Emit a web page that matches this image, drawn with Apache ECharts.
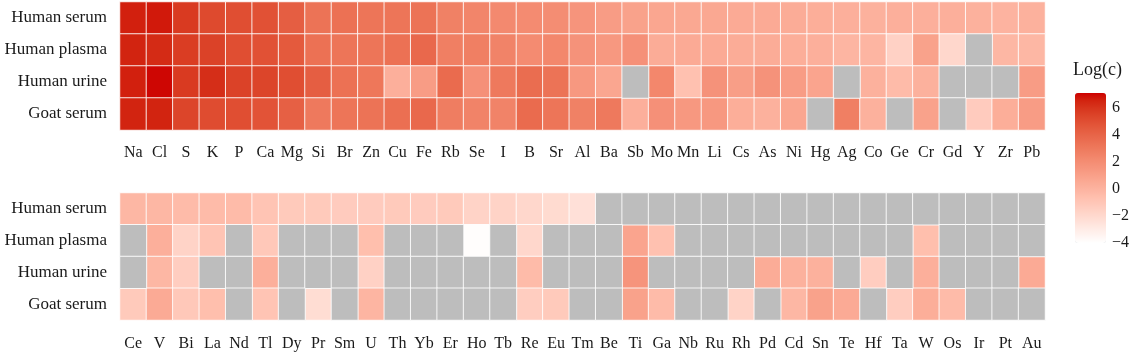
<!DOCTYPE html>
<html>
<head>
<meta charset="utf-8">
<script src="https://cdn.jsdelivr.net/npm/echarts@6/dist/echarts.min.js"></script>
<style>
    html, body { margin: 0; padding: 0; background: #fff; }
    #chart { width: 1132px; height: 352px; }
</style>
</head>
<body>
<div id="chart"></div>
<script>
// element order as in the figure
const elementsTop = ["Na", "Cl", "S", "K", "P", "Ca", "Mg", "Si", "Br", "Zn", "Cu", "Fe", "Rb", "Se", "I", "B", "Sr", "Al", "Ba", "Sb", "Mo", "Mn", "Li", "Cs", "As", "Ni", "Hg", "Ag", "Co", "Ge", "Cr", "Gd", "Y", "Zr", "Pb"];
const elementsBottom = ["Ce", "V", "Bi", "La", "Nd", "Tl", "Dy", "Pr", "Sm", "U", "Th", "Yb", "Er", "Ho", "Tb", "Re", "Eu", "Tm", "Be", "Ti", "Ga", "Nb", "Ru", "Rh", "Pd", "Cd", "Sn", "Te", "Hf", "Ta", "W", "Os", "Ir", "Pt", "Au"];
const samples = ["Human serum", "Human plasma", "Human urine", "Goat serum"];
const legendTicks = [-4, -2, 0, 2, 4, 6];

// Log(c), null = not detected (grey)
const topHumanSerum = [6.6, 6.7, 5.8, 5.2, 5.0, 4.9, 4.3, 3.3, 3.4, 3.2, 3.2, 3.3, 2.6, 2.4, 2.2, 2.1, 2.0, 1.6, 1.2, 0.9, 0.7, 0.6, 0.6, 0.5, 0.5, 0.4, 0.3, 0.2, 0.1, 0.2, 0.2, 0.2, 0.1, 0.0, 0.1];
const topHumanPlasma = [6.5, 6.3, 5.7, 5.5, 5.0, 4.9, 4.5, 3.4, 3.2, 3.2, 3.4, 3.8, 2.7, 2.7, 2.5, 2.1, 2.3, 1.7, 1.4, 1.8, 0.4, 0.5, 0.5, 0.4, 0.4, 0.3, 0.2, -0.1, -0.1, -1.6, 0.9, -1.9, null, -0.2, -0.2];
const topHumanUrine = [6.6, 7.0, 5.8, 6.2, 5.5, 5.4, 5.0, 4.3, 3.4, 3.1, 0.2, 1.2, 3.7, 1.8, 3.0, 3.6, 3.3, 1.4, 0.7, null, 2.3, -0.7, 1.7, 1.1, 1.7, 1.2, 0.8, null, 0.1, -0.4, 0.1, null, null, null, 1.2];
const topGoatSerum = [6.5, 6.5, 5.4, 5.1, 5.0, 4.8, 4.2, 3.0, 3.2, 3.3, 3.5, 3.8, 2.8, 2.5, 2.5, 3.7, 3.2, 2.6, 3.0, 0.2, 1.8, 1.4, 1.4, 0.3, 0.1, 0.7, null, 2.7, 0.1, null, 0.9, null, -1.3, 0.3, 1.2];

const bottomHumanSerum = [-0.2, -0.2, -0.4, -0.4, -0.4, -0.9, -1.2, -1.2, -1.3, -1.3, -1.2, -1.3, -1.2, -1.7, -1.7, -1.9, -2.1, -2.4, null, null, null, null, null, null, null, null, null, null, null, null, null, null, null, null, null];
const bottomHumanPlasma = [null, 0.2, -1.7, -0.9, null, -1.1, null, null, null, -0.6, null, null, null, -3.9, null, -1.9, null, null, null, 0.8, -0.7, null, null, null, null, null, null, null, null, null, -0.6, null, null, null, null];
const bottomHumanUrine = [null, -0.2, -1.4, null, null, 0.2, null, null, null, -1.6, null, null, null, null, null, -0.4, null, null, null, 1.6, null, null, null, null, 0.4, 0.1, 0.1, null, -1.4, null, 0.2, null, null, null, 0.5];
const bottomGoatSerum = [-1.2, 0.5, -1.1, -0.6, null, -0.9, null, -2.2, null, -0.1, null, null, null, null, null, -1.4, -1.2, null, null, 0.9, -0.4, null, null, -1.7, null, -0.2, 0.9, 0.5, null, -1.4, 0.3, -0.4, null, null, null];

const topRows = [topHumanSerum, topHumanPlasma, topHumanUrine, topGoatSerum];
const bottomRows = [bottomHumanSerum, bottomHumanPlasma, bottomHumanUrine, bottomGoatSerum];

// white -> red gradient, interpolated in Lab like ggplot
function hexToLab(hex) {
    let c = [1, 3, 5].map((i) => parseInt(hex.substr(i, 2), 16) / 255);
    c = c.map((v) => (v > 0.04045 ? Math.pow((v + 0.055) / 1.055, 2.4) : v / 12.92));
    let x = (c[0] * 0.4124 + c[1] * 0.3576 + c[2] * 0.1805) / 0.95047;
    let y = c[0] * 0.2126 + c[1] * 0.7152 + c[2] * 0.0722;
    let z = (c[0] * 0.0193 + c[1] * 0.1192 + c[2] * 0.9505) / 1.08883;
    const f = (t) => (t > 0.008856 ? Math.cbrt(t) : 7.787 * t + 16 / 116);
    return [116 * f(y) - 16, 500 * (f(x) - f(y)), 200 * (f(y) - f(z))];
}
function labToHex(lab) {
    let fy = (lab[0] + 16) / 116, fx = fy + lab[1] / 500, fz = fy - lab[2] / 200;
    const g = (t) => (t > 0.206893 ? t * t * t : (t - 16 / 116) / 7.787);
    let x = g(fx) * 0.95047, y = g(fy), z = g(fz) * 1.08883;
    let r = x * 3.2406 + y * -1.5372 + z * -0.4986;
    let gg = x * -0.9689 + y * 1.8758 + z * 0.0415;
    let b = x * 0.0557 + y * -0.204 + z * 1.057;
    return "#" + [r, gg, b].map((v) => {
        v = v > 0.0031308 ? 1.055 * Math.pow(v, 1 / 2.4) - 0.055 : 12.92 * v;
        v = Math.round(Math.min(1, Math.max(0, v)) * 255);
        return v.toString(16).padStart(2, "0");
    }).join("");
}
const lowLab = hexToLab("#ffffff");
const highLab = hexToLab("#cd0000");
const gradient = [];
for (let i = 0; i <= 20; i++) {
    let t = i / 20;
    gradient.push(labToHex(lowLab.map((v, k) => v + (highLab[k] - v) * t)));
}

function cells(rows, missing) {
    let out = [];
    rows.forEach((row, r) => {
        row.forEach((v, c) => {
            if ((v === null) === missing) out.push([c, r, missing ? 0 : v]);
        });
    });
    return out;
}

const serif = "Liberation Serif";
const textColor = "#1a1a1a";
const cellStyle = { borderColor: "rgba(255,255,255,0.85)", borderWidth: 1 };

function xAxisFor(grid, names, margin) {
    return {
        type: "category", gridIndex: grid, data: names,
        axisLine: { show: false }, axisTick: { show: false }, splitLine: { show: false },
        axisLabel: { interval: 0, margin: margin, fontFamily: serif, fontSize: 16, color: textColor },
    };
}
function yAxisFor(grid) {
    return {
        type: "category", gridIndex: grid, data: samples, inverse: true,
        axisLine: { show: false }, axisTick: { show: false }, splitLine: { show: false },
        axisLabel: { margin: 13, fontFamily: serif, fontSize: 17, color: textColor },
    };
}

const chart = echarts.init(document.getElementById("chart"), null, { renderer: "canvas" });

const option = {
    backgroundColor: "#fff",
    animation: false,
    grid: [
        { left: 120, width: 925, top: 2, height: 128 },
        { left: 120, width: 925, top: 193, height: 127 },
        { left: 1075, width: 31, top: 93, height: 150 },
    ],
    xAxis: [
        xAxisFor(0, elementsTop, 15),
        xAxisFor(1, elementsBottom, 16),
        { type: "value", gridIndex: 2, show: false, min: 0, max: 1 },
    ],
    yAxis: [
        yAxisFor(0),
        yAxisFor(1),
        {
            type: "value", gridIndex: 2, position: "right", min: -4, max: 7.1, interval: 2,
            axisLine: { show: false }, splitLine: { show: false },
            axisTick: { show: true, inside: true, length: 6, lineStyle: { color: "rgba(255,255,255,0.8)", width: 1 } },
            axisLabel: {
                margin: 6, fontFamily: serif, fontSize: 16, color: textColor,
                formatter: (v) => (legendTicks.indexOf(v) >= 0 ? String(v).replace("-", "\u2212") : ""),
            },
        },
        {
            type: "value", gridIndex: 2, position: "left", min: -4, max: 7.1, interval: 2,
            axisLine: { show: false }, splitLine: { show: false }, axisLabel: { show: false },
            axisTick: { show: true, inside: true, length: 6, lineStyle: { color: "rgba(255,255,255,0.8)", width: 1 } },
        },
    ],
    visualMap: {
        type: "continuous",
        seriesIndex: [0, 1],
        min: -4,
        max: 7.1,
        calculable: false,
        hoverLink: false,
        left: 1075,
        top: 93,
        padding: 0,
        itemWidth: 31,
        itemHeight: 150,
        text: null,
        inRange: { color: gradient },
    },
    graphic: [
        {
            type: "text", left: 1073, top: 61,
            style: { text: "Log(c)", fontFamily: serif, fontSize: 18, fill: textColor },
        },
    ],
    series: [
        { type: "heatmap", xAxisIndex: 0, yAxisIndex: 0, data: cells(topRows, false), itemStyle: cellStyle },
        { type: "heatmap", xAxisIndex: 1, yAxisIndex: 1, data: cells(bottomRows, false), itemStyle: cellStyle },
        { type: "heatmap", xAxisIndex: 0, yAxisIndex: 0, data: cells(topRows, true), itemStyle: Object.assign({ color: "#bdbdbd" }, cellStyle) },
        { type: "heatmap", xAxisIndex: 1, yAxisIndex: 1, data: cells(bottomRows, true), itemStyle: Object.assign({ color: "#bdbdbd" }, cellStyle) },
        { type: "scatter", xAxisIndex: 2, yAxisIndex: 2, data: [] },
        { type: "scatter", xAxisIndex: 2, yAxisIndex: 3, data: [] },
    ],
};

chart.setOption(option);
</script>
</body>
</html>
